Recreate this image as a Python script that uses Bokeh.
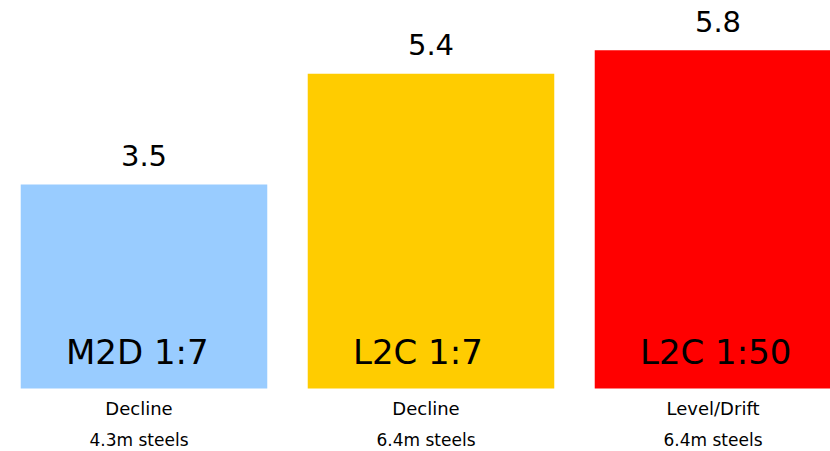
from bokeh.plotting import figure
from bokeh.models import ColumnDataSource, Range1d
from bokeh.core.properties import value
from bokeh.embed import file_html
from bokeh.resources import INLINE

bar_labels = ["M2D 1:7", "L2C 1:7", "L2C 1:50"]
values = [3.5, 5.4, 5.8]
value_texts = ["3.5", "5.4", "5.8"]
line1 = ["Decline", "Decline", "Level/Drift"]
line2 = ["4.3m steels", "6.4m steels", "6.4m steels"]
colors = ["#99CCFF", "#FFCC00", "#FF0000"]

xs = list(range(len(values)))
src = ColumnDataSource(dict(x=xs, top=values, vt=value_texts, lab=bar_labels,
                            l1=line1, l2=line2, color=colors,
                            zero=[0] * len(values)))

p = figure(width=830, height=451, output_backend="svg", toolbar_location=None,
           x_range=Range1d(-0.5, 2.392), y_range=Range1d(-1.08, 6.655),
           min_border=0, outline_line_color=None)
p.axis.visible = False
p.grid.visible = False
p.background_fill_color = "white"
p.border_fill_color = "white"

p.vbar(x="x", top="top", bottom=0, width=0.859, color="color", line_color=None, source=src)

font = value("DejaVu Sans")
p.text(x="x", y="top", text="vt", source=src, text_font=font, text_font_size="29px",
       text_align="center", text_baseline="middle", y_offset=-29, text_color="black")
p.text(x="x", y="zero", text="lab", source=src, text_font=font, text_font_size="34px",
       text_align="left", text_baseline="middle", x_offset=-78, y_offset=-37,
       text_color="black")
p.text(x="x", y="zero", text="l1", source=src, text_font=font, text_font_size="18px",
       text_align="center", text_baseline="middle", x_offset=-5, y_offset=20,
       text_color="black")
p.text(x="x", y="zero", text="l2", source=src, text_font=font, text_font_size="17px",
       text_align="center", text_baseline="middle", x_offset=-5, y_offset=51,
       text_color="black")

open("out.html", "w").write(file_html(p, INLINE))
